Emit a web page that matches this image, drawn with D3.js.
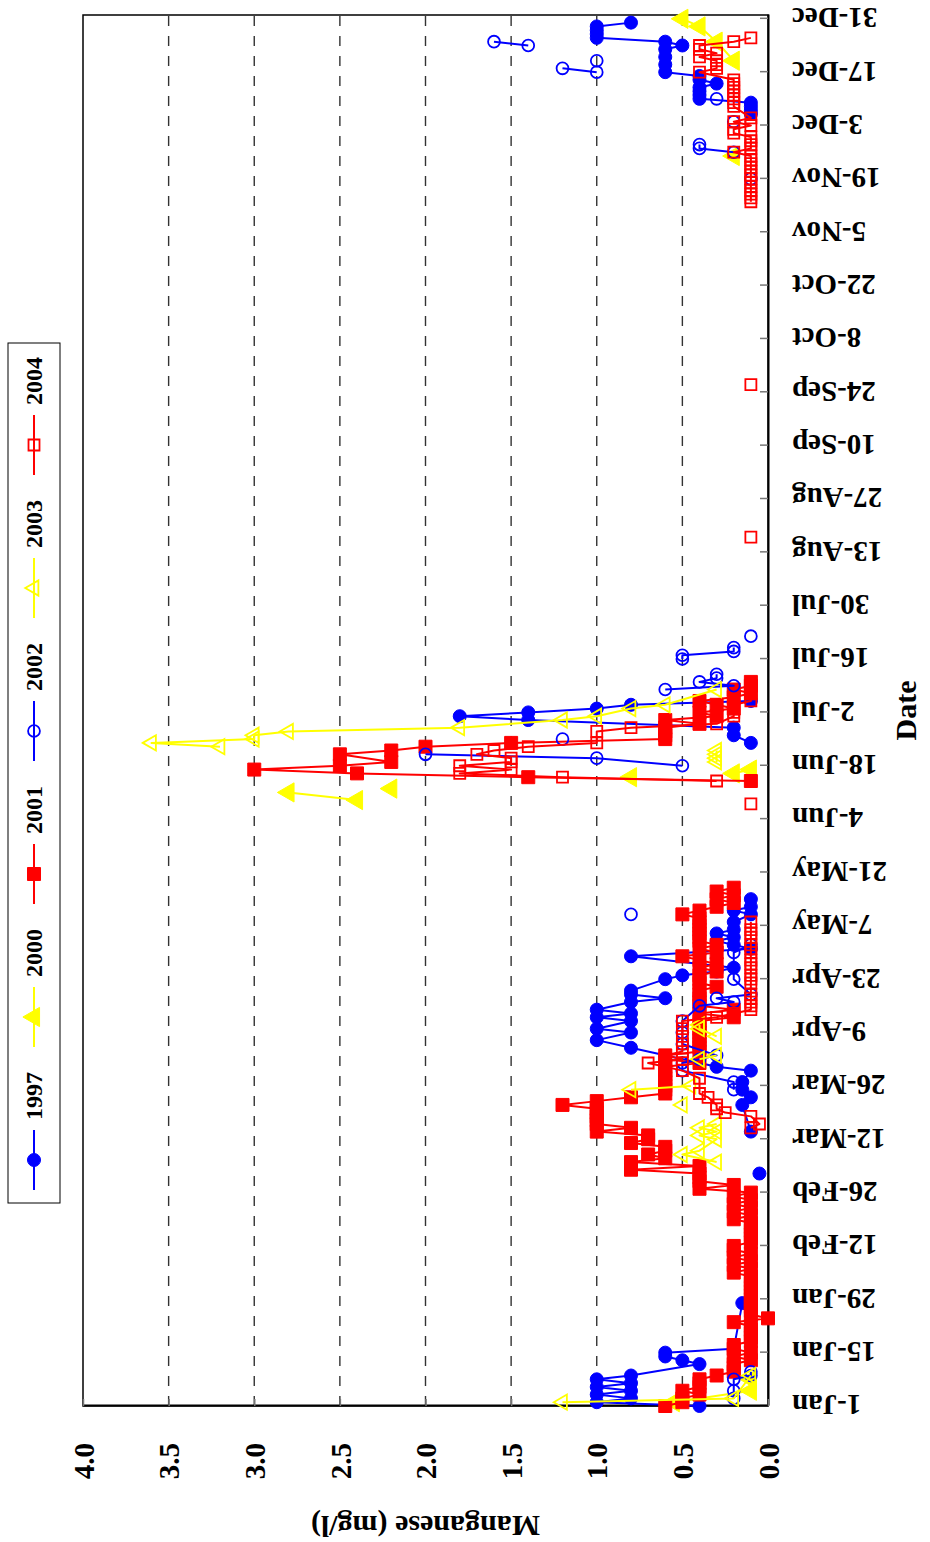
<!DOCTYPE html>
<html>
<head>
<meta charset="utf-8">
<script src="https://cdn.jsdelivr.net/npm/d3@7"></script>
<style>
  html, body { margin: 0; padding: 0; background: #fff; }
  svg { display: block; }
  text { font-family: "Liberation Serif", "Times New Roman", serif; font-weight: bold; }
</style>
</head>
<body>
<svg id="chart" width="930" height="1542"></svg>
<script>
// ---------------------------------------------------------------
// Manganese (mg/l) by day of the year, one series per year.
// Each series is a list of runs of consecutive samples; a run is
// drawn as one connected line. Points are [days after 1 Jan, mg/l].
// ---------------------------------------------------------------
const seriesNames = ["1997", "2000", "2001", "2002", "2003", "2004"];

const dateTickLabels = ["1-Jan","15-Jan","29-Jan","12-Feb","26-Feb","12-Mar","26-Mar","9-Apr",
  "23-Apr","7-May","21-May","4-Jun","18-Jun","2-Jul","16-Jul","30-Jul","13-Aug","27-Aug",
  "10-Sep","24-Sep","8-Oct","22-Oct","5-Nov","19-Nov","3-Dec","17-Dec","31-Dec"];

const valueTicks = [0, 0.5, 1, 1.5, 2, 2.5, 3, 3.5, 4];

const mn1997 = [
  [[0,0.4],[1,1.0],[2,0.8],[3,1.0],[4,0.8],[5,1.0],[6,0.8],[7,1.0],[8,0.8],[11,0.4],[12,0.5],
   [13,0.6],[14,0.6],[15,0.2],[27,0.15]],
  [[61,0.05]],
  [[72,0.1],[79,0.15],[81,0.1],[83,0.15],[85,0.15],[88,0.1],[89,0.3],[94,0.8],[96,1.0],[98,0.8],
   [99,1.0],[101,0.8],[102,1.0],[103,0.8],[104,1.0],[106,0.8],[107,0.6],[108,0.8],[109,0.8],
   [112,0.6],[113,0.5],[114,0.3],[115,0.2],[118,0.8],[120,0.1],[121,0.2],[122,0.3],[123,0.2],
   [124,0.3],[125,0.2],[127,0.2],[129,0.1],[130,0.2],[131,0.1],[133,0.1]],
  [[174,0.1],[176,0.2],[178,0.2],[180,1.4],[181,1.8],[182,1.4],[183,1.0],[184,0.8],[185,0.1]],
  [[339,0.1],[340,0.1],[341,0.1],[342,0.1],[343,0.4],[344,0.4],[345,0.4],[346,0.4],[347,0.3],
   [348,0.4],[349,0.4],[350,0.6],[352,0.6],[354,0.6],[356,0.6],[357,0.5],[358,0.6],[359,1.0],
   [360,1.0],[361,1.0],[362,1.0],[363,0.8]]
];

const mn2000 = [
  [[1,0.55],[4,0.1],[7,0.1]],
  [[159,2.4],[161,2.8]],
  [[162,2.2]],
  [[165,0.8]],
  [[166,0.2],[167,0.1]],
  [[328,0.2]],
  [[353,0.2],[358,0.3],[362,0.4],[364,0.5]]
];

const mn2001 = [
  [[0,0.6],[1,0.5],[2,0.5],[3,0.4],[4,0.5],[5,0.4],[6,0.4],[7,0.4],[8,0.3],[9,0.2],[10,0.2],
   [11,0.2],[12,0.1],[13,0.2],[14,0.1],[15,0.2],[16,0.2],[17,0.1],[18,0.1],[19,0.1],[20,0.1],
   [21,0.1],[22,0.2],[23,0.0],[24,0.1],[25,0.1],[26,0.1],[27,0.1],[28,0.1],[29,0.1],[30,0.1],
   [31,0.1],[32,0.1],[33,0.1],[34,0.1],[35,0.2],[36,0.1],[37,0.2],[38,0.1],[39,0.2],[40,0.1],
   [41,0.2],[42,0.2],[43,0.1],[44,0.1],[45,0.1],[46,0.1],[47,0.1],[48,0.1],[49,0.2],[50,0.1],
   [51,0.2],[52,0.1],[53,0.2],[54,0.1],[55,0.2],[56,0.1],[57,0.4],[58,0.2],[59,0.4],[60,0.4],
   [61,0.4],[62,0.8],[63,0.4],[64,0.8],[65,0.6],[66,0.7],[67,0.6],[68,0.6],[69,0.8],[70,0.7],
   [71,0.7],[72,1.0],[73,0.8],[74,1.0],[75,1.0],[76,1.0],[77,1.0],[78,1.0],[79,1.2],[80,1.0],
   [81,0.8],[82,0.6],[83,0.6],[84,0.6],[85,0.6],[86,0.6],[87,0.6],[88,0.6],[89,0.6],[90,0.4],
   [91,0.6],[92,0.6],[93,0.4],[94,0.4],[95,0.4],[96,0.4],[97,0.4],[98,0.4],[99,0.4],[100,0.4],
   [101,0.4],[102,0.2],[103,0.4],[104,0.2],[105,0.4],[106,0.4],[107,0.4],[108,0.4],[109,0.4],
   [110,0.3],[111,0.4],[112,0.4],[113,0.4],[114,0.3],[115,0.4],[116,0.3],[117,0.4],[118,0.5],
   [119,0.3],[120,0.4],[121,0.3],[122,0.4],[123,0.4],[124,0.4],[125,0.4],[126,0.4],[127,0.4],
   [128,0.4],[129,0.5],[130,0.4],[131,0.3],[132,0.2],[133,0.3],[134,0.2],[135,0.3],[136,0.2]],
  [[164,0.1],[165,1.4],[166,2.4],[167,3.0],[168,2.5],[169,2.2],[171,2.5],[172,2.2],[173,2.0],
   [174,1.5],[175,0.6],[176,0.6],[177,0.6],[178,0.6],[179,0.4],[180,0.6],[181,0.3],[182,0.4],
   [183,0.2],[184,0.3],[185,0.4],[186,0.2],[187,0.1],[188,0.2],[189,0.1],[190,0.1]]
];

const mn2002 = [
  [[2,0.2],[4,0.2],[7,0.2],[8,0.1],[9,0.1]],
  [[83,0.2],[85,0.2],[88,0.5],[90,0.5],[91,0.4],[92,0.3],[95,0.5],[98,0.5],[101,0.5],[105,0.4],
   [106,0.2],[107,0.3],[108,0.1],[112,0.2],[119,0.2],[121,0.1]],
  [[129,0.8]],
  [[168,0.5],[170,1.0],[171,2.0]],
  [[175,1.2]],
  [[188,0.6],[189,0.2],[190,0.4],[191,0.3],[192,0.3]],
  [[196,0.5],[197,0.5],[198,0.2],[199,0.2]],
  [[202,0.1]],
  [[322,0.1]],
  [[329,0.2],[330,0.4],[331,0.4]],
  [[337,0.2]],
  [[343,0.3]],
  [[350,1.0],[351,1.2]],
  [[353,1.0]],
  [[357,1.4],[358,1.6]]
];

const mn2003 = [
  [[1,1.2],[2,0.2],[8,0.1]],
  [[64,0.3],[66,0.5],[67,0.4],[70,0.3],[71,0.4],[72,0.3],[73,0.4],[74,0.3]],
  [[79,0.5]],
  [[83,0.8],[84,0.45]],
  [[91,0.4],[92,0.3]],
  [[97,0.3],[99,0.4],[100,0.4]],
  [[169,0.3],[170,0.3],[171,0.3],[172,0.3]],
  [[173,3.2],[174,3.6],[175,3.0],[176,3.0],[177,2.8],[178,1.8],[180,1.2],[181,1.0],[183,0.8],
   [184,0.6],[188,0.3]]
];

const mn2004 = [
  [[73,0.1],[74,0.05],[76,0.1],[77,0.25],[78,0.3],[79,0.3],[81,0.35],[82,0.4],[86,0.4],[88,0.5],
   [90,0.7],[91,0.5],[92,0.6],[93,0.5],[95,0.5],[97,0.5],[99,0.5],[101,0.5],[102,0.3],[103,0.2],
   [104,0.1],[105,0.1],[106,0.1],[107,0.1],[108,0.1],[111,0.1],[112,0.1],[113,0.1],[115,0.1],
   [116,0.1],[117,0.1],[119,0.1],[120,0.1],[121,0.1],[123,0.1],[124,0.1],[125,0.1],[127,0.1]],
  [[158,0.1]],
  [[164,0.3],[165,1.2],[166,1.8],[167,1.5],[168,1.8],[169,1.5],[170,1.5],[171,1.7],[172,1.6],
   [173,1.4],[174,1.0],[177,1.0],[178,0.8],[179,0.3],[181,0.2],[182,0.2],[184,0.2],[185,0.1],
   [187,0.1]],
  [[228,0.1]],
  [[268,0.1]],
  [[316,0.1],[317,0.1],[318,0.1],[319,0.1],[320,0.1],[321,0.1],[322,0.1],[323,0.1],[324,0.1],
   [325,0.1],[326,0.1],[327,0.1],[328,0.1],[329,0.2],[330,0.1],[331,0.1],[332,0.1],[333,0.1],
   [334,0.2],[335,0.2],[336,0.1],[337,0.2],[338,0.1],[341,0.2],[342,0.2],[343,0.2],[344,0.2],
   [345,0.2],[346,0.2],[347,0.2],[348,0.2],[350,0.4],[351,0.3],[352,0.3],[353,0.3],[354,0.4],
   [355,0.3],[356,0.4],[357,0.4],[358,0.2],[359,0.1]]
];

const seriesData = { "1997": mn1997, "2000": mn2000, "2001": mn2001,
                     "2002": mn2002, "2003": mn2003, "2004": mn2004 };

// Marker / line styling per year
const seriesStyle = {
  "1997": { color: "#0000FF", symbol: d3.symbolCircle,   size: 133, filled: true  },
  "2000": { color: "#FFFF00", symbol: d3.symbolTriangle, size: 160, filled: true  },
  "2001": { color: "#FF0000", symbol: d3.symbolSquare,   size: 169, filled: true  },
  "2002": { color: "#0000FF", symbol: d3.symbolCircle,   size: 110, filled: false },
  "2003": { color: "#FFFF00", symbol: d3.symbolTriangle, size: 100, filled: false },
  "2004": { color: "#FF0000", symbol: d3.symbolSquare,   size: 121, filled: false }
};

// ---------------------------------------------------------------
// The chart is laid out landscape (1542 x 930) and turned a
// quarter-turn counter-clockwise to fill the portrait page.
// ---------------------------------------------------------------
const W = 1542, H = 930;
const plot = { left: 136, right: 1527, top: 83, bottom: 768 };

const svg = d3.select("#chart");
svg.append("rect").attr("width", 930).attr("height", 1542).attr("fill", "#fff");
const g = svg.append("g").attr("transform", `translate(0,${W}) rotate(-90)`);

const parseTick = d3.utcParse("%d-%b");
const yearStart = parseTick("1-Jan");
const yearEnd = d3.utcYear.offset(yearStart, 1);
const toDate = day => d3.utcDay.offset(yearStart, day);
const tickDates = dateTickLabels.map(parseTick);

const x = d3.scaleUtc().domain([yearStart, yearEnd]).range([plot.left, plot.right]);
const y = d3.scaleLinear().domain([0, 4]).range([plot.bottom, plot.top]);

// dashed horizontal gridlines
g.append("g").selectAll("line")
  .data(valueTicks.filter(v => v > 0 && v < 4))
  .join("line")
  .attr("x1", plot.left).attr("x2", plot.right)
  .attr("y1", d => y(d)).attr("y2", d => y(d))
  .attr("stroke", "#333").attr("stroke-width", 1.4)
  .attr("stroke-dasharray", "10,10");

// plot frame
g.append("rect")
  .attr("x", plot.left).attr("y", plot.top)
  .attr("width", plot.right - plot.left).attr("height", plot.bottom - plot.top)
  .attr("fill", "none").attr("stroke", "#000").attr("stroke-width", 1.5);

// date axis
const xAxis = g.append("g")
  .attr("transform", `translate(0,${plot.bottom})`)
  .call(d3.axisBottom(x).tickValues(tickDates)
    .tickFormat((d, i) => dateTickLabels[i])
    .tickSizeInner(-8).tickSizeOuter(0));
xAxis.select(".domain").attr("stroke", "#000").attr("stroke-width", 2);
xAxis.selectAll(".tick line").attr("stroke", "#777").attr("stroke-width", 1.5);
xAxis.attr("font-family", null).attr("font-size", 29);
xAxis.selectAll(".tick text")
  .attr("transform", "rotate(-90)")
  .attr("text-anchor", "end")
  .attr("x", -24).attr("y", 0).attr("dy", "0.35em")
  .attr("fill", "#000");

// value axis
const yAxis = g.append("g")
  .attr("transform", `translate(${plot.left},0)`)
  .call(d3.axisLeft(y).tickValues(valueTicks).tickFormat(d3.format(".1f"))
    .tickSizeInner(-7).tickSizeOuter(0).tickPadding(37));
yAxis.select(".domain").attr("stroke", "#000").attr("stroke-width", 2);
yAxis.selectAll(".tick line").attr("stroke", "#777").attr("stroke-width", 1.5);
yAxis.attr("font-family", null).attr("font-size", 29);
yAxis.selectAll(".tick text").attr("fill", "#000").attr("dy", "0.35em");

// axis titles
g.append("text")
  .attr("transform", `translate(26,${(plot.top + plot.bottom) / 2}) rotate(-90)`)
  .attr("text-anchor", "middle").attr("font-size", 30)
  .text("Manganese (mg/l)");
g.append("text")
  .attr("x", (plot.left + plot.right) / 2).attr("y", 916)
  .attr("text-anchor", "middle").attr("font-size", 30)
  .text("Date");

// series: lines then markers, year by year
const line = d3.line()
  .x(d => x(toDate(d[0])))
  .y(d => y(d[1]));

const marker = st => d3.symbol().type(st.symbol).size(st.size)();

function drawMarker(sel, st) {
  sel.attr("d", marker(st))
    .attr("fill", st.filled ? st.color : "none")
    .attr("stroke", st.color)
    .attr("stroke-width", st.filled ? 1 : 1.8);
}

seriesNames.forEach(name => {
  const st = seriesStyle[name];
  const runs = seriesData[name];
  const sg = g.append("g").attr("class", "series-" + name);
  sg.selectAll("path.run")
    .data(runs.filter(r => r.length > 1))
    .join("path")
    .attr("class", "run")
    .attr("d", line)
    .attr("fill", "none")
    .attr("stroke", st.color)
    .attr("stroke-width", 2)
    .attr("stroke-linejoin", "round");
  sg.selectAll("path.pt")
    .data(runs.flat())
    .join("path")
    .attr("class", "pt")
    .attr("transform", d => `translate(${x(toDate(d[0]))},${y(d[1])})`)
    .call(drawMarker, st);
});

// legend
const legend = g.append("g");
legend.append("rect")
  .attr("x", 339).attr("y", 8).attr("width", 860).attr("height", 52)
  .attr("fill", "#fff").attr("stroke", "#000").attr("stroke-width", 1);
const legendStep = 143;
seriesNames.forEach((name, i) => {
  const st = seriesStyle[name];
  const cx = 382 + i * legendStep;
  const eg = legend.append("g");
  eg.append("line")
    .attr("x1", cx - 30).attr("x2", cx + 30).attr("y1", 34).attr("y2", 34)
    .attr("stroke", st.color).attr("stroke-width", 2);
  eg.append("path").attr("transform", `translate(${cx},34)`).call(drawMarker, st);
  eg.append("text")
    .attr("x", cx + 40).attr("y", 34).attr("dy", "0.35em")
    .attr("font-size", 24)
    .text(name);
});
</script>
</body>
</html>
